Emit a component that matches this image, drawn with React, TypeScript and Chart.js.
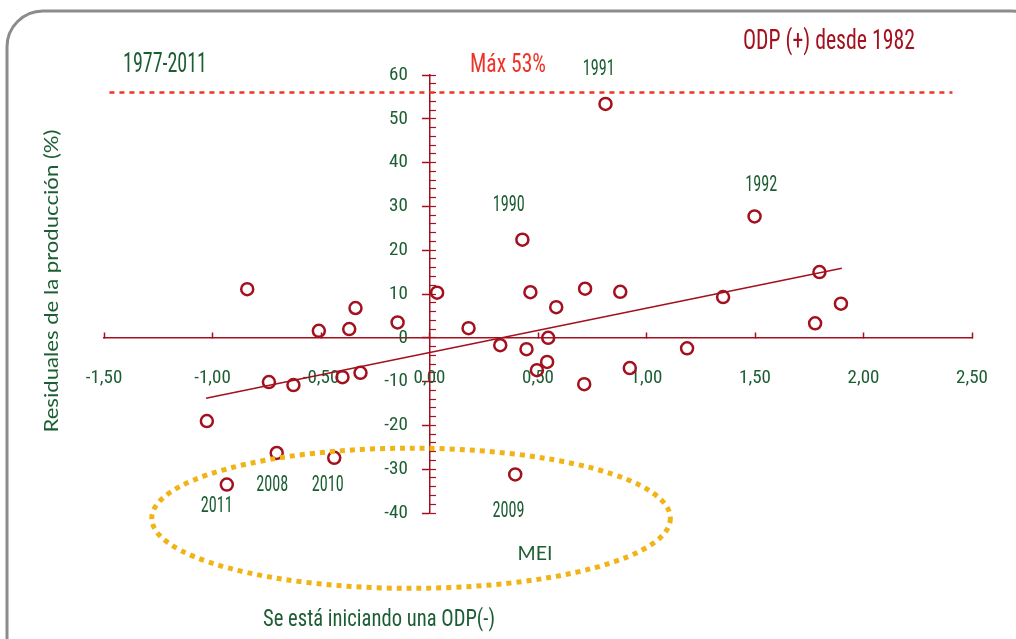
import React, { useEffect, useRef } from 'react';
import { Chart, registerables } from 'chart.js';

Chart.register(...registerables);

// ---- Data ----
const meiValues = [
  -1.026, -0.934, -0.84, -0.74, -0.704, -0.627, -0.51, -0.439, -0.401, -0.37,
  -0.341, -0.318, -0.147, 0.035, 0.18, 0.326, 0.395, 0.428, 0.447, 0.465,
  0.495, 0.542, 0.547, 0.584, 0.713, 0.717, 0.811, 0.879, 0.923, 1.187,
  1.353, 1.498, 1.777, 1.797, 1.896,
];
const residualValues = [
  -19.0, -33.5, 11.1, -10.1, -26.3, -10.8, 1.6, -27.4, -9.0, 2.0,
  6.8, -8.0, 3.5, 10.3, 2.2, -1.7, -31.2, 22.4, -2.6, 10.4,
  -7.4, -5.5, 0.0, 7.0, -10.6, 11.2, 53.4, 10.5, -6.9, -2.4,
  9.3, 27.7, 3.3, 15.0, 7.8,
];
const trendMei = [-1.03, 1.9];
const trendResidual = [-13.8, 15.9];
const maxLineMei = [-1.475, 2.41];
const maxLineResidual = [56, 56];

const yearLabels = ['1990', '1991', '1992', '2008', '2009', '2010', '2011'];
const yearLabelMei = [0.365, 0.78, 1.529, -0.725, 0.364, -0.469, -0.98];
const yearLabelResidual = [30.5, 61.5, 35.0, -33.6, -39.5, -33.4, -38.2];

const xTickMin = -1.5;
const xTickMax = 2.5;
const xTickStep = 0.5;
const yTickMin = -40;
const yTickMax = 60;
const yTickStep = 10;
const yMinorStep = 2;
const yLabelAnchorMei = -0.1;

// ellipse (data units): centre and radii
const ellipseCenter = [-0.085, -41.2];
const ellipseRadii = [1.195, 16];

const RED = '#A3101E';
const BRIGHT_RED = '#EE3429';
const GREEN = '#1C5E33';
const GOLD = '#F0B416';
const ROUND = "Lato, 'Open Sans', 'DejaVu Sans', sans-serif";

function pickNarrow(): { family: string; weight: string } {
  const c = document.createElement('canvas').getContext('2d') as CanvasRenderingContext2D;
  const sample = '1977-2011 ODP desde';
  const w = (f: string) => {
    c.font = '10px serif';
    c.font = f;
    return c.measureText(sample).width;
  };
  const base = w('20px monospace');
  const named = ["'Roboto Condensed'", "'Liberation Sans Narrow'", "'Arial Narrow'", "'DejaVu Sans Condensed'", "'Noto Sans Condensed'", "'Open Sans Condensed'"];
  for (const fam of named) {
    if (Math.abs(w(`20px ${fam}, monospace`) - base) > 0.5) return { family: fam, weight: 'normal' };
  }
  for (const fam of ["'Noto Sans'", "'DejaVu Sans'", "'Open Sans'", 'Roboto']) {
    c.font = '10px serif';
    c.font = `condensed 20px ${fam}`;
    const ok = c.font.indexOf('condensed') >= 0;
    if (ok) {
      const wc = c.measureText(sample).width;
      if (wc < w(`20px ${fam}`) - 0.5) return { family: fam, weight: 'condensed' };
    }
  }
  return { family: "'Liberation Sans'", weight: 'normal' };
}

let NARROW_FONT = { family: "'Liberation Sans'", weight: 'normal' };

function drawFit(ctx: CanvasRenderingContext2D, text: string, cx: number, cy: number, size: number, width: number, family: string, weight = 'normal') {
  ctx.save();
  ctx.font = `${weight} ${size}px ${family}`;
  const m = ctx.measureText(text).width;
  const sx = m > 0 ? width / m : 1;
  ctx.translate(cx, cy);
  ctx.scale(sx, 1);
  ctx.textAlign = 'center';
  ctx.textBaseline = 'middle';
  ctx.fillText(text, 0, 0);
  ctx.restore();
}

function drawNarrow(ctx: CanvasRenderingContext2D, text: string, cx: number, cy: number, size: number, width: number) {
  drawFit(ctx, text, cx, cy, size, width, NARROW_FONT.family, NARROW_FONT.weight);
}

const decorPlugin = {
  id: 'decor',
  beforeDraw(chart: any) {
    const ctx = chart.ctx;
    ctx.save();
    ctx.strokeStyle = '#8C8C8C';
    ctx.lineWidth = 3;
    ctx.beginPath();
    if (ctx.roundRect) {
      ctx.roundRect(7, 11, 1040, 700, 36);
    } else {
      ctx.rect(7, 11, 1040, 700);
    }
    ctx.stroke();
    ctx.restore();
  },
  afterDraw(chart: any) {
    const ctx = chart.ctx as CanvasRenderingContext2D;
    const xs = chart.scales.x;
    const ys = chart.scales.y;
    ctx.save();

    // Ellipse
    const cx = xs.getPixelForValue(ellipseCenter[0]);
    const cy = ys.getPixelForValue(ellipseCenter[1]);
    const rx = xs.getPixelForValue(ellipseCenter[0] + ellipseRadii[0]) - cx;
    const ry = cy - ys.getPixelForValue(ellipseCenter[1] + ellipseRadii[1]);
    ctx.strokeStyle = GOLD;
    ctx.lineWidth = 5;
    ctx.setLineDash([5, 5]);
    ctx.beginPath();
    ctx.ellipse(cx, cy, rx, ry, 0, 0, Math.PI * 2);
    ctx.stroke();
    ctx.setLineDash([]);

    // Year labels
    ctx.fillStyle = GREEN;
    yearLabels.forEach((t, i) => {
      drawNarrow(ctx, t, xs.getPixelForValue(yearLabelMei[i]), ys.getPixelForValue(yearLabelResidual[i]) + 1, 22, 32);
    });

    // Headings
    ctx.fillStyle = GREEN;
    drawNarrow(ctx, '1977-2011', 165, 65, 27, 84);
    drawNarrow(ctx, 'Se está iniciando una ODP(-)', 379, 620, 24, 232);
    ctx.fillStyle = BRIGHT_RED;
    drawNarrow(ctx, 'Máx 53%', 508, 66, 25, 76);
    ctx.fillStyle = RED;
    drawNarrow(ctx, 'ODP (+) desde 1982', 829, 42, 27, 172);

    // Axis titles
    ctx.fillStyle = GREEN;
    drawFit(ctx, 'MEI', 535, 554, 19, 35, ROUND);
    ctx.translate(52, 281);
    ctx.rotate(-Math.PI / 2);
    drawFit(ctx, 'Residuales de la producción (%)', 0, 0, 19, 303, ROUND);
    ctx.restore();
  },
};

export default function App() {
  const canvasRef = useRef<HTMLCanvasElement | null>(null);

  useEffect(() => {
    if (!canvasRef.current) return;
    NARROW_FONT = pickNarrow();
    const tickFont = { family: NARROW_FONT.family, size: 19, weight: NARROW_FONT.weight };
    const points = meiValues.map((m, i) => ({ x: m, y: residualValues[i] }));
    const trend = trendMei.map((m, i) => ({ x: m, y: trendResidual[i] }));
    const maxLine = maxLineMei.map((m, i) => ({ x: m, y: maxLineResidual[i] }));

    const chart = new Chart(canvasRef.current, {
      type: 'scatter',
      data: {
        datasets: [
          {
            label: 'Residuales',
            data: points,
            pointStyle: 'circle',
            pointRadius: 6,
            pointBorderWidth: 2.5,
            borderColor: RED,
            backgroundColor: 'rgba(0,0,0,0)',
            pointBackgroundColor: 'rgba(0,0,0,0)',
            pointBorderColor: RED,
          },
          {
            label: 'Tendencia',
            data: trend,
            showLine: true,
            pointRadius: 0,
            borderColor: RED,
            borderWidth: 1.5,
          },
          {
            label: 'Máx',
            data: maxLine,
            showLine: true,
            pointRadius: 0,
            borderColor: BRIGHT_RED,
            borderWidth: 2.5,
            borderDash: [5, 5],
          },
        ],
      },
      options: {
        animation: false,
        responsive: false,
        devicePixelRatio: 1,
        layout: { padding: { left: 104, right: 44, top: 75, bottom: 126 } },
        plugins: { legend: { display: false }, tooltip: { enabled: false } },
        scales: {
          x: {
            type: 'linear',
            min: xTickMin,
            max: xTickMax,
            position: { y: 0 },
            afterFit: (scale: any) => {
              scale.paddingLeft = 0;
              scale.paddingRight = 0;
            },
            ticks: {
              stepSize: xTickStep,
              autoSkip: false,
              maxRotation: 0,
              padding: 35,
              color: GREEN,
              font: tickFont,
              callback: (v: any) => Number(v).toFixed(2).replace('.', ','),
            },
            grid: { drawOnChartArea: false, drawTicks: true, tickLength: -6, tickColor: RED, tickWidth: 1.5 },
            border: { color: RED, width: 1.5 },
          },
          y: {
            type: 'linear',
            min: yTickMin,
            max: yTickMax,
            position: { x: 0 },
            ticks: { stepSize: yTickStep, display: false },
            grid: { drawOnChartArea: false, drawTicks: true, tickLength: 7, tickColor: RED, tickWidth: 1.5 },
            border: { color: RED, width: 1.5 },
          },
          yMinor: {
            type: 'linear',
            axis: 'y',
            min: yTickMin,
            max: yTickMax,
            position: { x: 0 },
            ticks: { stepSize: yMinorStep, display: false },
            grid: { drawOnChartArea: false, drawTicks: true, tickLength: -6, tickColor: RED, tickWidth: 1.2 },
            border: { display: false },
          },
          yLabels: {
            type: 'linear',
            axis: 'y',
            min: yTickMin,
            max: yTickMax,
            position: { x: yLabelAnchorMei },
            afterFit: (scale: any) => {
              scale.paddingTop = 0;
              scale.paddingBottom = 0;
            },
            ticks: { stepSize: yTickStep, color: GREEN, font: tickFont, padding: 0 },
            grid: { display: false, drawTicks: false },
            border: { display: false },
          },
        },
      },
      plugins: [decorPlugin],
    } as any);

    return () => chart.destroy();
  }, []);

  return (
    <div style={{ position: 'fixed', left: 0, top: 0, width: 1016, height: 639, background: '#fff' }}>
      <canvas ref={canvasRef} width={1016} height={639} style={{ display: 'block' }} />
    </div>
  );
}
